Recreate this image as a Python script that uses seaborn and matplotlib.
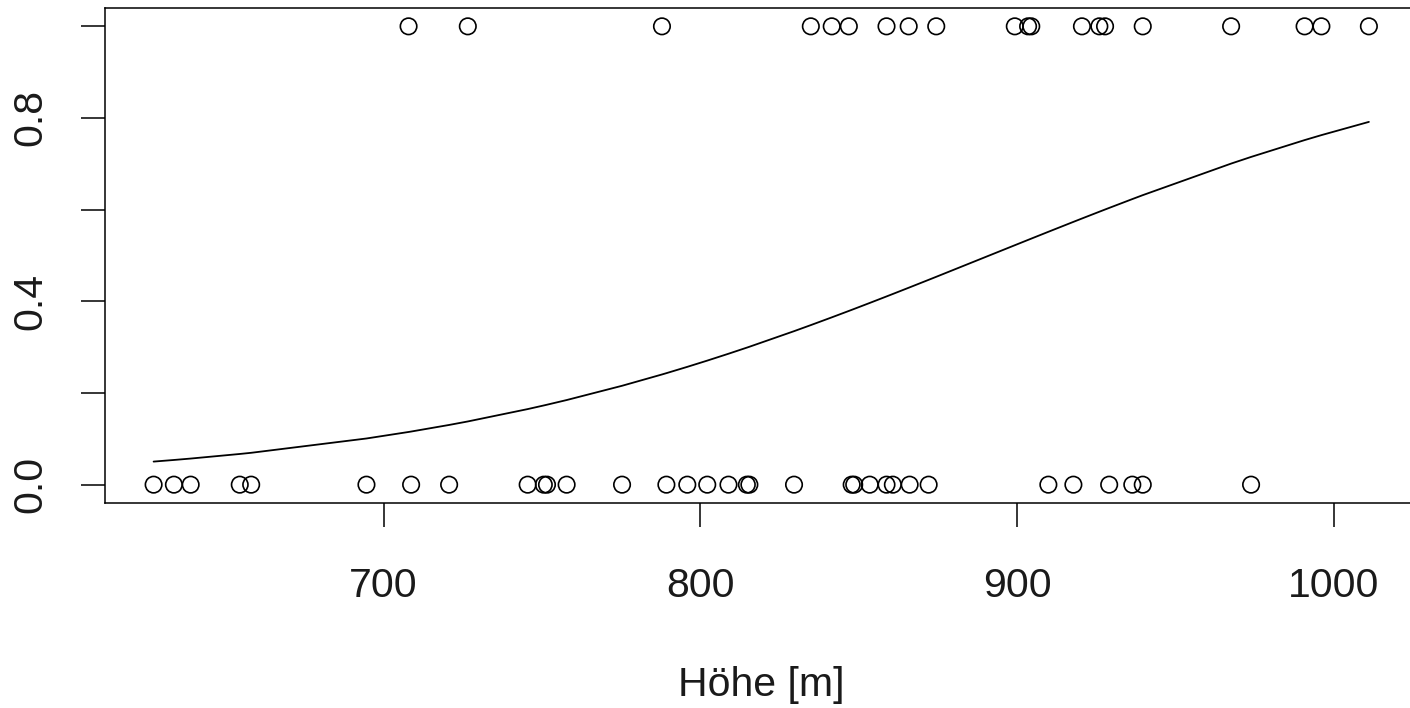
import numpy as np
import pandas as pd
import matplotlib
matplotlib.use("Agg")
import matplotlib.pyplot as plt
import seaborn as sns

# Observations: elevation [m] with presence (1) / absence (0)
hoehe_present = [707.9, 726.6, 787.9, 834.9, 841.5, 846.9, 858.8, 865.8, 874.5,
                 899.3, 903.5, 904.5, 920.5, 926.0, 927.8, 939.7, 967.6, 990.8,
                 996.1, 1011.1]
hoehe_absent = [627.4, 633.8, 639.1, 654.6, 658.2, 694.6, 708.7, 720.7, 745.5,
                750.6, 751.6, 757.8, 775.3, 789.3, 795.9, 802.2, 808.9, 814.7,
                815.5, 829.6, 847.8, 848.6, 853.5, 858.8, 860.8, 866.1, 872.1,
                909.9, 917.8, 929.1, 936.4, 939.7, 973.9]
x_ticks = [700, 800, 900, 1000]
y_ticks = [0.0, 0.2, 0.4, 0.6, 0.8, 1.0]
y_ticklabels = ["0.0", "", "0.4", "", "0.8", ""]
x_label = "Höhe [m]"

df = pd.DataFrame({
    "hoehe": hoehe_present + hoehe_absent,
    "y": [1] * len(hoehe_present) + [0] * len(hoehe_absent),
})

# logistic regression (binomial GLM) fitted by IRLS
X = np.column_stack([np.ones(len(df)), df["hoehe"].values])
yv = df["y"].values.astype(float)
beta = np.zeros(2)
for _ in range(50):
    eta = X @ beta
    mu = 1 / (1 + np.exp(-eta))
    w = mu * (1 - mu)
    z = eta + (yv - mu) / w
    beta = np.linalg.solve(X.T @ (w[:, None] * X), X.T @ (w * z))
xs = np.sort(df["hoehe"].values)
fit = pd.DataFrame({"hoehe": xs, "p": 1 / (1 + np.exp(-(beta[0] + beta[1] * xs)))})

sns.set_style("white")
plt.rcParams["font.family"] = ["Liberation Sans", "DejaVu Sans"]

fig = plt.figure(figsize=(14.1, 7.08), dpi=100)
ax = fig.add_axes([105 / 1410, 205 / 708, 1312.5 / 1410, 495 / 708])

sns.scatterplot(data=df, x="hoehe", y="y", ax=ax, marker="o", s=140,
                facecolors="none", edgecolor="black", linewidth=1.2, legend=False)
sns.lineplot(data=fit, x="hoehe", y="p", ax=ax, color="black", linewidth=1.3,
             legend=False)

rng = max(df["hoehe"]) - min(df["hoehe"])
ax.set_xlim(min(df["hoehe"]) - 0.04 * rng, max(df["hoehe"]) + 0.04 * rng)
ax.set_ylim(-0.04, 1.04)
ax.set_xticks(x_ticks)
ax.set_xticklabels([str(t) for t in x_ticks])
ax.set_yticks(y_ticks)
ax.set_yticklabels(y_ticklabels, rotation=90, va="center")
ax.tick_params(axis="both", direction="out", length=17, width=1.1,
               labelsize=29.5, color="black", labelcolor="#1a1a1a",
               bottom=True, left=True)
ax.tick_params(axis="x", pad=29)
ax.tick_params(axis="y", pad=23)
for sp in ax.spines.values():
    sp.set_visible(True)
    sp.set_color("black")
    sp.set_linewidth(1.1)
ax.set_xlabel(x_label, fontsize=29.5, color="#1a1a1a", labelpad=44)
ax.set_ylabel("")

fig.savefig("out.png", dpi=100)
